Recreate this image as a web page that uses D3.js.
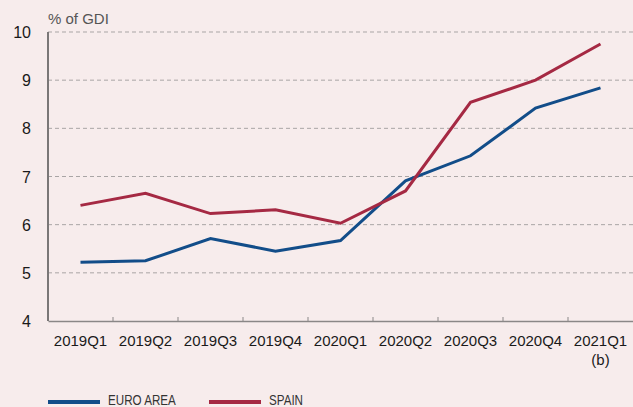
<!DOCTYPE html>
<html>
<head>
<meta charset="utf-8">
<script src="https://cdn.jsdelivr.net/npm/d3@7"></script>
<style>
  body { margin: 0; background: #f7ecec; }
  svg { display: block; font-family: "Liberation Sans", Arial, sans-serif; }
</style>
</head>
<body>
<div id="chart"></div>
<script>
var quarters = ["2019Q1","2019Q2","2019Q3","2019Q4","2020Q1","2020Q2","2020Q3","2020Q4","2021Q1"];
var euroArea = [5.22, 5.25, 5.71, 5.45, 5.67, 6.91, 7.43, 8.42, 8.84];
var spain = [6.40, 6.65, 6.23, 6.31, 6.03, 6.70, 8.54, 9.00, 9.75];
var yTicks = [4, 5, 6, 7, 8, 9, 10];

var width = 633, height = 407;
var margin = { top: 32, right: 0, bottom: 86, left: 48 };

var svg = d3.select('#chart').append('svg')
  .attr('width', width)
  .attr('height', height);

svg.append('rect').attr('width', width).attr('height', height).attr('fill', '#f7ecec');

var x = d3.scaleBand().domain(quarters).range([margin.left, width - margin.right]);
var y = d3.scaleLinear().domain([4, 10]).range([height - margin.bottom, margin.top]);

// gridlines
svg.append('g').selectAll('line')
  .data(yTicks.filter(d => d > 4))
  .enter().append('line')
  .attr('x1', margin.left).attr('x2', width)
  .attr('y1', d => y(d)).attr('y2', d => y(d))
  .attr('stroke', '#a9a5a5')
  .attr('stroke-width', 1)
  .attr('stroke-dasharray', '4,3');

// y labels
svg.append('g').selectAll('text')
  .data(yTicks)
  .enter().append('text')
  .attr('x', 31)
  .attr('y', d => y(d) + 6)
  .attr('text-anchor', 'end')
  .attr('font-size', 16)
  .attr('fill', '#1a1a1a')
  .text(d => d);

svg.append('text')
  .attr('x', 48).attr('y', 24)
  .attr('font-size', 15)
  .attr('fill', '#555')
  .text('% of GDI');

// x axis
var xAxis = svg.append('g')
  .attr('transform', `translate(0,${y(4)})`)
  .call(d3.axisBottom(x).tickSize(0).tickPadding(14));
xAxis.select('.domain').attr('stroke', '#8a8787').attr('stroke-width', 1.5);
xAxis.selectAll('text').attr('font-size', 15).attr('fill', '#1a1a1a')
  .attr('font-family', '"Liberation Sans", Arial, sans-serif');

// small tick marks at band boundaries
svg.append('g').selectAll('line')
  .data(quarters.slice(1))
  .enter().append('line')
  .attr('x1', d => x(d)).attr('x2', d => x(d))
  .attr('y1', y(4)).attr('y2', y(4) - 4)
  .attr('stroke', '#8a8787').attr('stroke-width', 1);

svg.append('text')
  .attr('x', x('2021Q1') + x.bandwidth() / 2)
  .attr('y', y(4) + 44)
  .attr('text-anchor', 'middle')
  .attr('font-size', 15)
  .attr('fill', '#1a1a1a')
  .text('(b)');

// y axis line
svg.append('line')
  .attr('x1', margin.left).attr('x2', margin.left)
  .attr('y1', y(10)).attr('y2', y(4))
  .attr('stroke', '#7a7777').attr('stroke-width', 2);

var line = d3.line()
  .x((d, i) => x(quarters[i]) + x.bandwidth() / 2)
  .y(d => y(d));

svg.append('path').datum(euroArea)
  .attr('d', line).attr('fill', 'none')
  .attr('stroke', '#124d89').attr('stroke-width', 3);

svg.append('path').datum(spain)
  .attr('d', line).attr('fill', 'none')
  .attr('stroke', '#a52943').attr('stroke-width', 3);

// legend (condensed text via horizontal scale)
var legend = [
  { name: 'EURO AREA', color: '#124d89', x: 48 },
  { name: 'SPAIN', color: '#a52943', x: 209 }
];
var lg = svg.append('g').selectAll('g').data(legend).enter().append('g');
lg.append('line')
  .attr('x1', d => d.x).attr('x2', d => d.x + 52)
  .attr('y1', 402).attr('y2', 402)
  .attr('stroke', d => d.color).attr('stroke-width', 4);
lg.append('text')
  .attr('transform', d => `translate(${d.x + 60},405) scale(0.83,1)`)
  .attr('font-size', 14)
  .attr('fill', '#333')
  .text(d => d.name);
</script>
</body>
</html>
